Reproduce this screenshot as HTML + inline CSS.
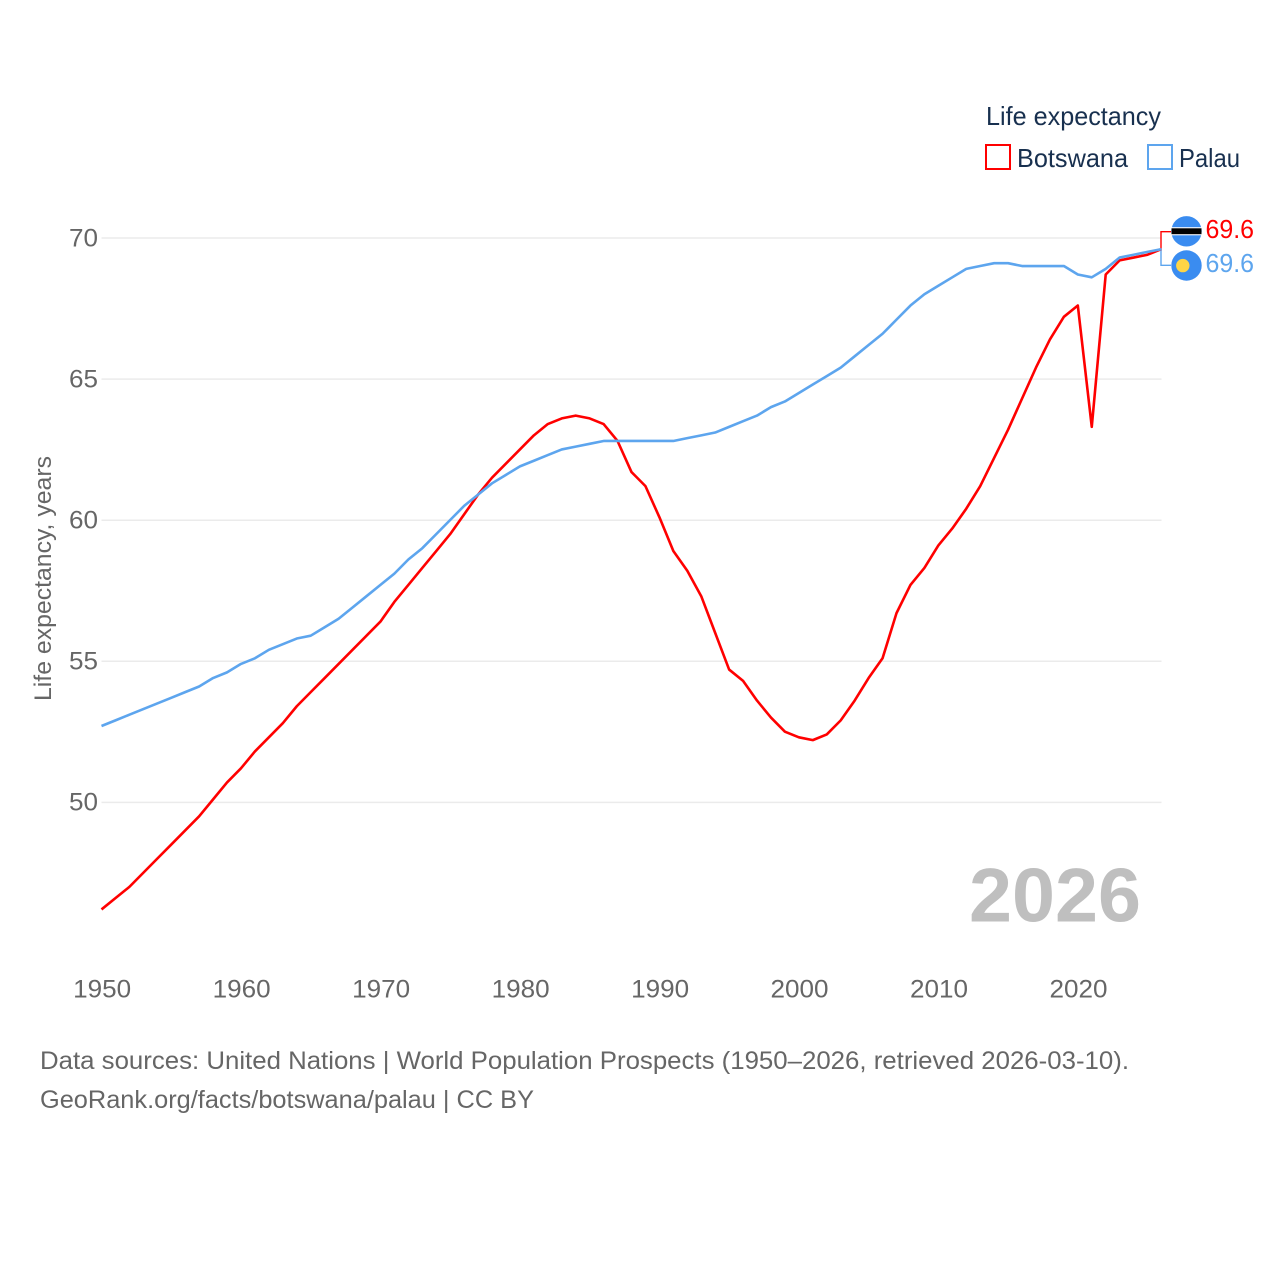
<!DOCTYPE html>
<html lang="en">
<head>
<meta charset="utf-8">
<title>Life expectancy: Botswana and Palau</title>
<style>
html,body{margin:0;padding:0;background:#fff}
svg{display:block}
text{font-family:"Liberation Sans",sans-serif}
</style>
</head>
<body>
<svg id="chart" xmlns="http://www.w3.org/2000/svg" width="1280" height="1280" viewBox="0 0 1280 1280">
  <rect width="1280" height="1280" fill="#fff"/>
  <g id="grid"></g>
  <g id="yticks"></g>
  <g id="xticks"></g>
  <text transform="translate(51,701) rotate(-90)" font-size="24" fill="#666" textLength="245" lengthAdjust="spacingAndGlyphs">Life expectancy, years</text>
  <text x="969" y="921.5" font-size="76" font-weight="700" fill="#bfbfbf" textLength="172" lengthAdjust="spacingAndGlyphs">2026</text>
  <g id="end-connectors"></g>
  <g id="series"></g>
  <g id="end-labels"></g>

  <g>
    <text x="986" y="125" font-size="26" fill="#18304f" textLength="175" lengthAdjust="spacingAndGlyphs">Life expectancy</text>
    <g>
      <rect x="986" y="145" width="24" height="24" fill="#fff" stroke="#ff0000" stroke-width="2"/>
      <text x="1017" y="167" font-size="26" fill="#18304f" textLength="111" lengthAdjust="spacingAndGlyphs">Botswana</text>
    </g>
    <g>
      <rect x="1148" y="145" width="24" height="24" fill="#fff" stroke="#5da5ee" stroke-width="2"/>
      <text x="1179" y="167" font-size="26" fill="#18304f" textLength="61" lengthAdjust="spacingAndGlyphs">Palau</text>
    </g>
  </g>

  <g>
    <text x="40" y="1069" font-size="25" fill="#666" textLength="1089" lengthAdjust="spacingAndGlyphs">Data sources: United Nations | World Population Prospects (1950–2026, retrieved 2026-03-10).</text>
    <text x="40" y="1108" font-size="25" fill="#666" textLength="494" lengthAdjust="spacingAndGlyphs">GeoRank.org/facts/botswana/palau | CC BY</text>
  </g>
</svg>
<script>
const startYear = 1950;
const endYear = 2026;
const yTickValues = [50, 55, 60, 65, 70];
const xTickValues = [1950, 1960, 1970, 1980, 1990, 2000, 2010, 2020];
const botswanaValues = [46.2,46.6,47.0,47.5,48.0,48.5,49.0,49.5,50.1,50.7,51.2,51.8,52.3,52.8,53.4,53.9,54.4,54.9,55.4,55.9,56.4,57.1,57.7,58.3,58.9,59.5,60.2,60.9,61.5,62.0,62.5,63.0,63.4,63.6,63.7,63.6,63.4,62.8,61.7,61.2,60.1,58.9,58.2,57.3,56.0,54.7,54.3,53.6,53.0,52.5,52.3,52.2,52.4,52.9,53.6,54.4,55.1,56.7,57.7,58.3,59.1,59.7,60.4,61.2,62.2,63.2,64.3,65.4,66.4,67.2,67.6,63.3,68.7,69.2,69.3,69.4,69.6];
const palauValues = [52.7,52.9,53.1,53.3,53.5,53.7,53.9,54.1,54.4,54.6,54.9,55.1,55.4,55.6,55.8,55.9,56.2,56.5,56.9,57.3,57.7,58.1,58.6,59.0,59.5,60.0,60.5,60.9,61.3,61.6,61.9,62.1,62.3,62.5,62.6,62.7,62.8,62.8,62.8,62.8,62.8,62.8,62.9,63.0,63.1,63.3,63.5,63.7,64.0,64.2,64.5,64.8,65.1,65.4,65.8,66.2,66.6,67.1,67.6,68.0,68.3,68.6,68.9,69.0,69.1,69.1,69.0,69.0,69.0,69.0,68.7,68.6,68.9,69.3,69.4,69.5,69.6];

const NS = 'http://www.w3.org/2000/svg';
const RED = '#ff0000';
const BLUE = '#5da5ee';
function xScale(year) { return 101.5 + (year - startYear) * (1161.5 - 101.5) / (endYear - startYear); }
function yScale(v) { return 802.2 - (v - 50) * (802.2 - 237.8) / 20; }
function make(tag, attrs, parent) {
  const el = document.createElementNS(NS, tag);
  for (const k in attrs) el.setAttribute(k, attrs[k]);
  parent.appendChild(el);
  return el;
}
function linePath(values) {
  return values.map((v, i) => (i ? 'L' : 'M') + xScale(startYear + i).toFixed(2) + ' ' + yScale(v).toFixed(2)).join(' ');
}
const grid = document.getElementById('grid');
const yticks = document.getElementById('yticks');
const xticks = document.getElementById('xticks');
const connectors = document.getElementById('end-connectors');
const series = document.getElementById('series');
const endLabels = document.getElementById('end-labels');

yTickValues.forEach(function (v) {
  const g = make('line', {x1: 101.5, x2: 1161.5, y1: yScale(v) + 0.2, y2: yScale(v) + 0.2, stroke: '#ebebeb', 'stroke-width': 1.5}, grid);
  
  
  const t = make('text', {x: 98, y: yScale(v) + 8.5, 'text-anchor': 'end', 'font-size': 25, fill: '#666', textLength: 29, lengthAdjust: 'spacingAndGlyphs'}, yticks);
  t.textContent = v;
  
  
});
xTickValues.forEach(function (y) {
  const t = make('text', {x: xScale(y) + 0.7, y: 997.6, 'text-anchor': 'middle', 'font-size': 25, fill: '#666', textLength: 58, lengthAdjust: 'spacingAndGlyphs'}, xticks);
  t.textContent = y;
  
  
});

const endX = xScale(endYear);
const botEnd = botswanaValues[botswanaValues.length - 1];
const palEnd = palauValues[palauValues.length - 1];

const botConn = make('path', {d: 'M' + (endX - 0.5) + ' ' + yScale(botEnd) + ' V231.7 H1171', fill: 'none', stroke: RED, 'stroke-width': 1.4}, connectors);


const palConn = make('path', {d: 'M' + (endX - 0.5) + ' ' + yScale(palEnd) + ' V265.3 H1171', fill: 'none', stroke: BLUE, 'stroke-width': 1.4}, connectors);



const botLine = make('path', {d: linePath(botswanaValues), fill: 'none', stroke: RED, 'stroke-width': 2.6, 'stroke-linejoin': 'round'}, series);


const palLine = make('path', {d: linePath(palauValues), fill: 'none', stroke: BLUE, 'stroke-width': 2.6, 'stroke-linejoin': 'round'}, series);



const botFlag = make('g', {}, endLabels);


make('circle', {cx: 1186.5, cy: 231.3, r: 15.2, fill: '#3a8cf0'}, botFlag);
make('rect', {x: 1171.5, y: 227.2, width: 30, height: 8.1, fill: '#fff'}, botFlag);
make('rect', {x: 1171.5, y: 228.3, width: 30, height: 5.9, fill: '#000'}, botFlag);

const palFlag = make('g', {}, endLabels);


make('circle', {cx: 1186.5, cy: 265.5, r: 15.2, fill: '#3a8cf0'}, palFlag);
make('circle', {cx: 1182.8, cy: 265.6, r: 6.7, fill: '#ffd545'}, palFlag);

const botLabel = make('text', {x: 1205.5, y: 238, 'font-size': 26, fill: RED, textLength: 48.5, lengthAdjust: 'spacingAndGlyphs'}, endLabels);
botLabel.textContent = botEnd.toFixed(1);


const palLabel = make('text', {x: 1205.5, y: 272, 'font-size': 26, fill: BLUE, textLength: 48.5, lengthAdjust: 'spacingAndGlyphs'}, endLabels);
palLabel.textContent = palEnd.toFixed(1);


</script>
</body>
</html>
